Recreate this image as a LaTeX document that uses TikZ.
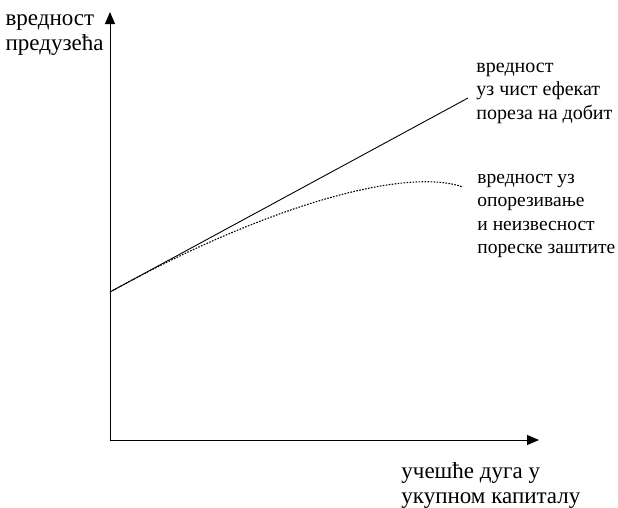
\documentclass[tikz,border=0pt]{standalone}
\usepackage{fontspec}
\setmainfont{Liberation Serif}
\usetikzlibrary{arrows.meta, positioning}

\begin{document}
\begin{tikzpicture}[x=1pt,y=-1pt,>={Triangle[length=12pt,width=10pt]},line width=0.9pt]

	\tikzset{lbl/.style={inner sep=0pt, align=left, font=\fontsize{20}{23.5}\selectfont}}
	\tikzset{big lbl/.style={lbl, font=\fontsize{23}{25}\selectfont}}
	\tikzset{curve dot/.style={dash pattern=on 1.6pt off 1.4pt, line width=1.1pt}}

	\useasboundingbox (0,0) rectangle (618,507);

	\coordinate (O) at (110,440);
	\coordinate (ytop) at (110,12);
	\coordinate (xend) at (539,440);
	\coordinate (start) at (110,292);
	\coordinate (lineend) at (468,98);
	\coordinate (curveend) at (463,187);

	% axes
	\draw[->] (O) -- (ytop);
	\draw[->] (O) -- (xend);

	% labels
	\node[big lbl, left=6pt of ytop, yshift=-23pt] (vlabel) {вредност\\предузећа};
	\node[big lbl, anchor=west] (hlabel) at (401,485) {учешће дуга у\\укупном капиталу};
	\node[lbl, anchor=west] (lineLbl) at (476,93) {вредност\\уз чист ефекат\\пореза на добит};
	\node[lbl, font=\fontsize{19.5}{23.3}\selectfont, anchor=west] (curveLbl) at (477,216) {вредност уз\\опорезивање\\и неизвесност\\пореске заштите};

	% value lines
	\draw (start) -- (lineend);
	\draw[curve dot] (start) .. controls (260,209) and (403,166) .. (curveend);
\end{tikzpicture}
\end{document}
